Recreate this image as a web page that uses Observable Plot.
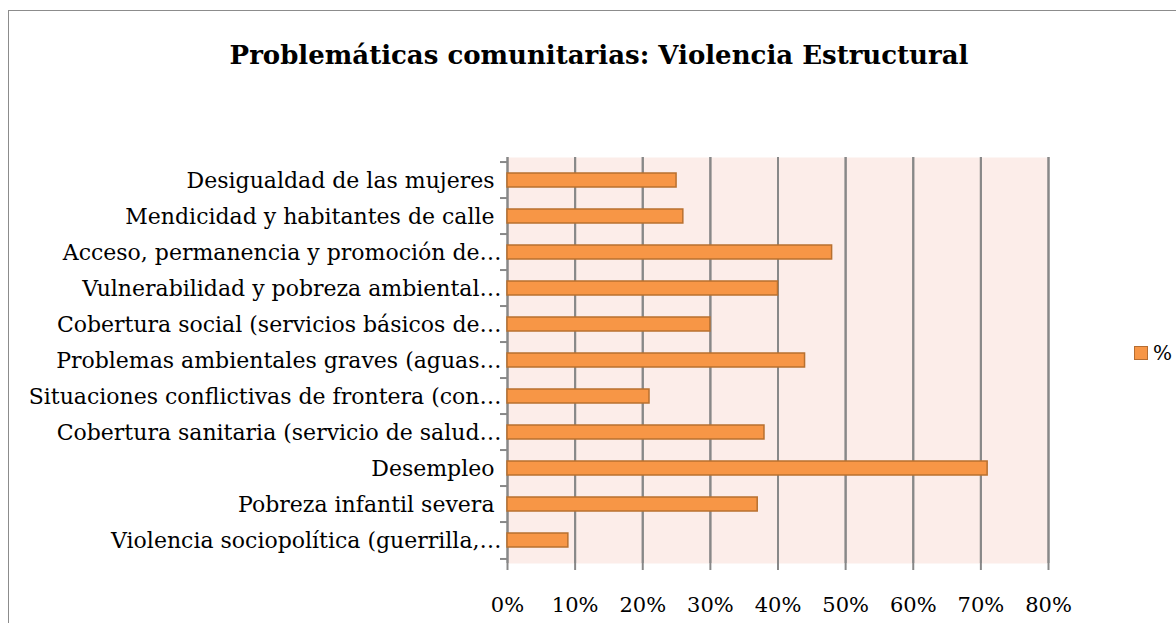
<!DOCTYPE html>
<html>
<head>
<meta charset="utf-8">
<script src="https://cdn.jsdelivr.net/npm/d3@7"></script>
<script src="https://cdn.jsdelivr.net/npm/@observablehq/plot@0.6"></script>
<style>
  html, body { margin: 0; padding: 0; background: #fff; }
  #wrap { position: relative; width: 1176px; height: 623px; overflow: hidden; font-family: "DejaVu Serif", serif; }
  #border { position: absolute; left: 8px; top: 10px; width: 1200px; height: 700px; border-top: 1.5px solid #8c8c8c; border-left: 1.5px solid #8c8c8c; }
  #title { position: absolute; left: 0; width: 1198px; top: 40px; text-align: center; font-weight: bold; font-size: 26px; color: #000; }
  #legend { position: absolute; left: 1134px; top: 341px; font-size: 20px; color: #000; display: flex; align-items: center; }
  #legend .sw { width: 12px; height: 12px; background: #F79646; border: 1px solid #B66D31; margin-right: 5px; }
  #chart { position: absolute; left: 0; top: 0; }
</style>
</head>
<body>
<div id="wrap">
  <div id="border"></div>
  <div id="title">Problemáticas comunitarias: Violencia Estructural</div>
  <div id="legend"><div class="sw"></div><span>%</span></div>
  <div id="chart"></div>
</div>
<script>
const categories = [
  "Desigualdad de las mujeres ",
  "Mendicidad y habitantes de calle ",
  "Acceso, permanencia y promoción de…",
  "Vulnerabilidad y pobreza ambiental…",
  "Cobertura social (servicios básicos de…",
  "Problemas ambientales graves (aguas…",
  "Situaciones conflictivas de frontera (con…",
  "Cobertura sanitaria (servicio de salud…",
  "Desempleo ",
  "Pobreza infantil severa ",
  "Violencia sociopolítica (guerrilla,…"
];
const values = [0.25, 0.26, 0.48, 0.40, 0.30, 0.44, 0.21, 0.38, 0.71, 0.37, 0.09];
const xTicks = [0, 0.1, 0.2, 0.3, 0.4, 0.5, 0.6, 0.7, 0.8];

const data = categories.map((c, i) => ({cat: c, v: values[i]}));

const W = 1176, H = 623, mT = 157, mB = 60, mL = 507, mR = 128;
const step = (H - mT - mB) / categories.length;

const chart = Plot.plot({
  width: W,
  height: H,
  marginTop: mT,
  marginBottom: mB,
  marginLeft: mL,
  marginRight: mR,
  style: { fontFamily: "DejaVu Serif, serif", background: "transparent", overflow: "visible" },
  x: { domain: [0, 0.8], ticks: xTicks, tickFormat: d3.format(".0%") },
  y: { domain: categories, padding: 0 },
  marks: [
    Plot.frame({ fill: "#FCEDE9", stroke: null }),
    Plot.ruleX(xTicks, { stroke: "#888888", strokeWidth: 2 }),
    Plot.ruleY([0], { x1: 0, x2: 0.8, frameAnchor: "bottom", stroke: "#888888", strokeWidth: 2 }),
    Plot.tickX(xTicks, { x: d => d, y1: 0, stroke: "#888888", strokeWidth: 2 }),
    Plot.ruleY(categories, { y: d => d, x1: 0, x2: 0, insetLeft: -7, dy: -step / 2, stroke: "#888888", strokeWidth: 2 }),
    Plot.ruleY(categories.slice(-1), { y: d => d, x1: 0, x2: 0, insetLeft: -7, dy: step / 2, stroke: "#888888", strokeWidth: 2 }),
    Plot.barX(data, { y: "cat", x: "v", fill: "#F79646", stroke: "#B8702F", strokeWidth: 1.5, insetTop: 11, insetBottom: 11 }),
    Plot.axisY({ tickSize: 0, tickPadding: 6, fontSize: 22, label: null, fill: "#000" }),
    Plot.axisX({ ticks: xTicks, tickSize: 7, tickPadding: 27, fontSize: 21, label: null, stroke: "#888888", strokeWidth: 2, fill: "#000", tickFormat: d3.format(".0%") })
  ]
});
document.getElementById("chart").appendChild(chart);
</script>
</body>
</html>
